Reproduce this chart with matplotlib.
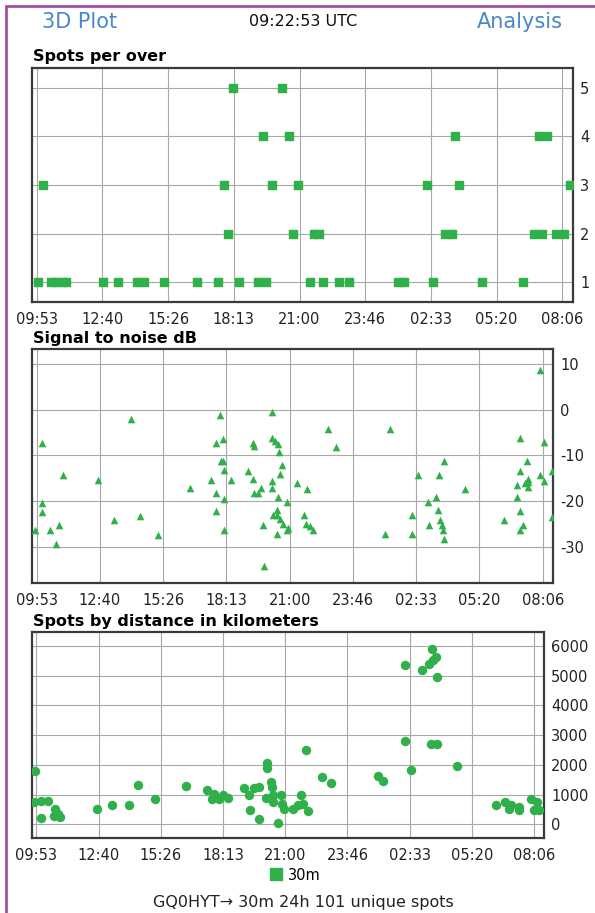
import matplotlib.pyplot as plt
from matplotlib.lines import Line2D
from matplotlib.patches import Rectangle

# x tick labels (24h window, evenly spaced)
tick_labels = ["09:53", "12:40", "15:26", "18:13", "21:00", "23:46", "02:33", "05:20", "08:06"]

# spots per over
over_times = ["18:10", "20:15",
              "19:28", "20:32", "03:34", "07:06", "07:28",
              "10:08", "17:49", "19:50", "20:56", "02:22", "03:44", "08:25",
              "17:57", "20:42", "21:36", "21:49", "03:08", "03:25", "06:54", "07:15", "07:49", "08:11",
              "09:55", "10:29", "10:42", "10:56", "11:08", "12:40", "13:20", "14:08", "14:25", "15:15",
              "16:39", "17:32", "18:27", "19:13", "19:34", "21:25", "22:00", "22:40", "23:04", "01:08",
              "01:25", "02:37", "04:42", "06:27"]
over_counts = [5, 5,
               4, 4, 4, 4, 4,
               3, 3, 3, 3, 3, 3, 3,
               2, 2, 2, 2, 2, 2, 2, 2, 2, 2,
               1, 1, 1, 1, 1, 1, 1, 1, 1, 1,
               1, 1, 1, 1, 1, 1, 1, 1, 1, 1,
               1, 1, 1, 1]

# signal to noise
snr_times = ["09:50", "10:07", "10:07", "10:07", "10:28", "10:43", "10:52", "11:02", "12:35", "13:17",
             "14:03", "14:25", "15:13", "16:37", "17:32", "17:45", "17:46", "17:45", "17:57", "17:58",
             "18:05", "18:03", "18:07", "18:07", "18:06", "18:26", "19:10", "19:23", "19:25", "19:23",
             "19:25", "19:37", "19:45", "19:50", "19:52", "20:12", "20:12", "20:13", "20:13", "20:15",
             "20:22", "20:30", "20:31", "20:40", "20:33", "20:30", "20:25", "20:27", "20:27", "20:35",
             "20:43", "20:53", "20:55", "20:52", "21:20", "21:38", "21:45", "21:43", "21:53", "22:00",
             "22:41", "23:02", "01:10", "01:25", "02:22", "02:22", "02:37", "03:05", "03:06", "03:25",
             "03:33", "03:30", "03:35", "03:40", "03:45", "03:43", "03:45", "04:40", "06:25", "06:57",
             "06:58", "07:05", "07:05", "07:05", "07:07", "07:15", "07:20", "07:25", "07:27", "07:28",
             "07:27", "07:58", "08:10", "08:00", "08:10", "08:30", "08:30"]
snr_db = [-26.3, -7.3, -20.3, -22.3, -26.3, -29.3, -25.2, -14.2, -15.3, -24.2,
          -2.1, -23.3, -27.4, -17.2, -15.3, -7.3, -18.2, -22.2, -1.2, -11.1,
          -6.4, -11.3, -13.1, -19.5, -26.3, -15.3, -13.3, -7.2, -7.9, -15.1,
          -18.2, -18.2, -17.2, -25.2, -34.1, -0.4, -6.1, -15.5, -17.2, -23.0,
          -6.9, -7.4, -9.3, -12.0, -14.0, -19.1, -21.9, -23.1, -27.2, -23.9,
          -25.0, -20.1, -25.8, -26.4, -16.1, -23.0, -17.3, -25.0, -25.5, -26.4,
          -4.2, -8.2, -27.2, -4.2, -23.1, -27.2, -14.2, -20.2, -25.2, -19.1,
          -14.2, -22.0, -24.2, -25.1, -11.1, -26.4, -28.2, -17.4, -24.2, -19.1,
          -16.4, -6.1, -13.3, -22.2, -26.3, -25.3, -16.1, -11.1, -15.1, -16.9,
          -15.9, 8.6, -7.1, -14.2, -15.5, -13.3, -23.4]

# spots by distance
dist_times = ["09:49", "09:46", "10:04", "10:25", "10:06", "10:43", "10:50", "10:55", "10:40", "12:35",
              "13:15", "14:01", "14:24", "15:10", "16:34", "17:30", "17:43", "17:48", "18:01", "18:13",
              "18:26", "19:10", "19:23", "19:25", "19:35", "19:49", "19:48", "20:11", "20:11", "20:09",
              "20:21", "20:24", "20:26", "20:26", "20:40", "20:47", "20:52", "20:55", "21:20", "21:33",
              "21:43", "21:48", "22:00", "21:56", "22:39", "23:01", "01:09", "01:22", "02:20", "02:20",
              "02:36", "03:06", "03:25", "03:32", "03:35", "03:43", "03:45", "03:30", "03:45", "04:41",
              "06:25", "06:49", "07:04", "06:59", "07:25", "07:27", "07:58", "08:06", "08:13", "08:20"]
dist_km = [1800, 760, 780, 780, 215, 530, 340, 250, 270, 510,
           645, 670, 1325, 840, 1290, 1155, 870, 1010, 870, 985,
           895, 1235, 985, 475, 1210, 1245, 190, 2060, 1890, 895,
           1440, 1270, 985, 760, 45, 985, 700, 530, 530, 645,
           985, 700, 440, 2490, 1585, 1405, 1640, 1470, 5345, 2820,
           1835, 5200, 5400, 5910, 5515, 5630, 4950, 2705, 2705, 1970,
           645, 760, 670, 530, 590, 475, 870, 475, 760, 475]

GREEN = "#30b04a"
BLUE = "#4a86c8"
W, H = 595.0, 913.0


def to_min(s):
    """minutes after the first tick (09:53), wrapping past midnight"""
    h, m = s.split(":")
    t = int(h) * 60 + int(m) - (9 * 60 + 53)
    if t < -60:
        t += 1440
    return t


def box(left, top, right, bottom):
    return [left / W, 1 - bottom / H, (right - left) / W, (bottom - top) / H]


def style_axes(ax, yticks, ylim):
    span = 1333.0
    xt = [span * i / 8 for i in range(9)]
    ax.set_xticks(xt)
    ax.set_xticklabels(tick_labels)
    ax.set_xlim(-12, span + 27)
    ax.set_yticks(yticks)
    ax.set_ylim(ylim)
    ax.yaxis.tick_right()
    ax.tick_params(axis="both", length=0, labelsize=10.5, labelcolor="#222222")
    ax.tick_params(axis="x", pad=7)
    ax.tick_params(axis="y", pad=5)
    ax.grid(True, color="#a8a8a8", lw=0.8)
    ax.set_axisbelow(True)
    for sp in ax.spines.values():
        sp.set_color("#3a3a3a")
        sp.set_linewidth(1.6)


if __name__ == "__main__":
    plt.rcParams["axes.unicode_minus"] = False
    fig = plt.figure(figsize=(5.95, 9.13), dpi=100)

    # header
    fig.text(42 / W, 1 - 22 / H, "3D Plot", color=BLUE, fontsize=15, va="center", ha="left")
    fig.text(303 / W, 1 - 21 / H, "09:22:53 UTC", color="#111111", fontsize=11.5, va="center", ha="center")
    fig.text(563 / W, 1 - 22 / H, "Analysis", color=BLUE, fontsize=15, va="center", ha="right")

    # spots per over
    ax1 = fig.add_axes(box(32, 68, 573, 302))
    ax1.scatter([to_min(t) for t in over_times], over_counts, marker="s", s=36,
                color=GREEN, edgecolors=GREEN, linewidths=1, zorder=3)
    style_axes(ax1, [1, 2, 3, 4, 5], (0.59, 5.41))
    fig.text(33 / W, 1 - 57 / H, "Spots per over", fontsize=11.5, fontweight="bold", va="center")

    # signal to noise
    ax2 = fig.add_axes(box(32, 349, 553, 583))
    ax2.scatter([to_min(t) for t in snr_times], snr_db, marker="^", s=30,
                color=GREEN, linewidths=0, zorder=3)
    style_axes(ax2, [-30, -20, -10, 0, 10], (-37.9, 13.3))
    fig.text(33 / W, 1 - 338 / H, "Signal to noise dB", fontsize=11.5, fontweight="bold", va="center")

    # distance
    ax3 = fig.add_axes(box(32, 632, 544, 838))
    ax3.scatter([to_min(t) for t in dist_times], dist_km, marker="o", s=46,
                color=GREEN, linewidths=0, zorder=3)
    style_axes(ax3, [0, 1000, 2000, 3000, 4000, 5000, 6000], (-455, 6470))
    fig.text(33 / W, 1 - 621 / H, "Spots by distance in kilometers", fontsize=11.5, fontweight="bold", va="center")

    proxy = Line2D([], [], marker="s", color=GREEN, ls="none", markersize=8)
    fig.legend([proxy], ["30m"], loc="center", bbox_to_anchor=(295 / W, 1 - 875 / H),
               frameon=False, fontsize=10.5, handletextpad=0.3, handlelength=1.0,
               borderpad=0, borderaxespad=0)

    fig.text(303 / W, 1 - 902 / H, "GQ0HYT\u2192 30m 24h 101 unique spots", fontsize=11.5,
             color="#222222", ha="center", va="center")

    # purple frame (left + top edges visible)
    fig.add_artist(Rectangle((6 / W, -0.05), 1.2, 1.05 - 6 / H, transform=fig.transFigure,
                             fill=False, edgecolor="#a4449f", lw=1.9))

    plt.savefig("out.png", dpi=100)
    plt.close()
